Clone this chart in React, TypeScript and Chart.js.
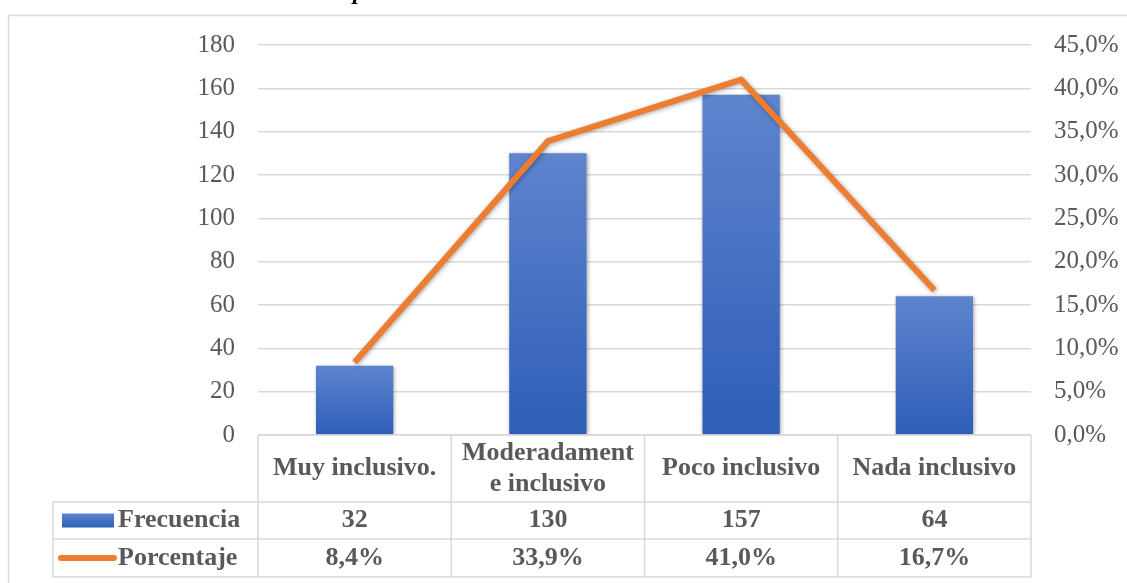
import React, { useEffect, useRef } from "react";
import { Chart, registerables } from "chart.js";

Chart.register(...registerables);

const categories: (string | string[])[] = [
  "Muy inclusivo.",
  ["Moderadament", "e inclusivo"],
  "Poco inclusivo",
  "Nada inclusivo",
];
const frecuencia = [32, 130, 157, 64];
const porcentaje = [0.084, 0.339, 0.41, 0.167];
const seriesNames = ["Frecuencia", "Porcentaje"];
const leftMax = 180;
const leftStep = 20;
const rightMax = 0.45;
const rightStep = 0.05;

const FONT = "'Liberation Serif', 'Times New Roman', serif";
const TEXT = "#595959";
const GRID = "#D9D9D9";
const ORANGE = "#ED7D31";
const BLUE_TOP = "rgb(94,132,206)";
const BLUE_BOT = "rgb(46,94,183)";
const TICK_SIZE = 25;
const TABLE_SIZE = 26;

const fmtPct = (v: number) => (v * 100).toFixed(1).replace(".", ",") + "%";

const tablePlugin = {
  id: "tablePlugin",
  beforeDraw(chart: any) {
    const ctx = chart.ctx;
    ctx.save();
    ctx.fillStyle = "#fff";
    ctx.fillRect(0, 0, chart.width, chart.height);
    ctx.strokeStyle = GRID;
    ctx.lineWidth = 1.5;
    ctx.strokeRect(8.5, 15.5, chart.width + 20, chart.height + 20);
    // fragment of caption above the chart
    ctx.fillStyle = "#000";
    ctx.font = `italic bold 24px ${FONT}`;
    ctx.textAlign = "left";
    ctx.textBaseline = "alphabetic";
    ctx.fillText("p", 353, -1);
    ctx.restore();
  },
  beforeDatasetDraw(chart: any) {
    const ctx = chart.ctx;
    ctx.save();
    ctx.shadowColor = "rgba(0,0,0,0.35)";
    ctx.shadowBlur = 4;
    ctx.shadowOffsetX = 1;
    ctx.shadowOffsetY = 1;
  },
  afterDatasetDraw(chart: any) {
    chart.ctx.restore();
  },
  afterDraw(chart: any) {
    const ctx = chart.ctx;
    const xs = chart.scales.x;
    const area = chart.chartArea;
    const n = categories.length;
    const half = (xs.getPixelForValue(1) - xs.getPixelForValue(0)) / 2;
    const bounds: number[] = [];
    for (let i = 0; i < n; i++) bounds.push(xs.getPixelForValue(i) - half);
    bounds.push(xs.getPixelForValue(n - 1) + half);
    const y0 = area.bottom;
    const y1 = y0 + 67;
    const y2 = y0 + 104;
    const y3 = y0 + 142;
    const legLeft = 53;

    ctx.save();
    ctx.strokeStyle = GRID;
    ctx.lineWidth = 1.5;
    ctx.beginPath();
    ctx.moveTo(bounds[0], y0);
    ctx.lineTo(bounds[n], y0);
    ctx.moveTo(legLeft, y1);
    ctx.lineTo(bounds[n], y1);
    ctx.moveTo(legLeft, y2);
    ctx.lineTo(bounds[n], y2);
    ctx.moveTo(legLeft, y3);
    ctx.lineTo(bounds[n], y3);
    for (let i = 0; i <= n; i++) {
      ctx.moveTo(bounds[i], y0);
      ctx.lineTo(bounds[i], y3);
    }
    ctx.moveTo(legLeft, y1);
    ctx.lineTo(legLeft, y3);
    ctx.stroke();

    ctx.fillStyle = TEXT;
    ctx.font = `bold ${TABLE_SIZE}px ${FONT}`;
    ctx.textAlign = "center";
    ctx.textBaseline = "middle";
    const hMid = (y0 + y1) / 2;
    categories.forEach((c, i) => {
      const cx = xs.getPixelForValue(i);
      if (Array.isArray(c)) {
        const lh = 31;
        const start = hMid - ((c.length - 1) * lh) / 2;
        c.forEach((line, j) => ctx.fillText(line, cx, start + j * lh));
      } else {
        ctx.fillText(c, cx, hMid);
      }
    });
    const r2 = (y1 + y2) / 2;
    const r3 = (y2 + y3) / 2;
    frecuencia.forEach((v, i) => ctx.fillText(String(v), xs.getPixelForValue(i), r2));
    porcentaje.forEach((v, i) => ctx.fillText(fmtPct(v), xs.getPixelForValue(i), r3));

    const g = ctx.createLinearGradient(0, r2 - 7, 0, r2 + 7);
    g.addColorStop(0, BLUE_TOP);
    g.addColorStop(1, BLUE_BOT);
    ctx.fillStyle = g;
    ctx.fillRect(62, r2 - 7, 52, 14);
    ctx.strokeStyle = ORANGE;
    ctx.lineWidth = 6;
    ctx.lineCap = "round";
    ctx.beginPath();
    ctx.moveTo(61, r3);
    ctx.lineTo(114, r3);
    ctx.stroke();
    ctx.fillStyle = TEXT;
    ctx.textAlign = "left";
    ctx.fillText(seriesNames[0], 118, r2);
    ctx.fillText(seriesNames[1], 118, r3);
    ctx.restore();
  },
};

export default function App() {
  const ref = useRef<HTMLCanvasElement | null>(null);
  useEffect(() => {
    if (!ref.current) return;
    const chart = new Chart(ref.current, {
      type: "bar",
      data: {
        labels: categories as any,
        datasets: [
          {
            type: "line",
            label: seriesNames[1],
            data: porcentaje,
            yAxisID: "y1",
            borderColor: ORANGE,
            borderWidth: 6,
            pointRadius: 0,
            borderJoinStyle: "miter",
            tension: 0,
            order: 0,
          } as any,
          {
            type: "bar",
            label: seriesNames[0],
            data: frecuencia,
            yAxisID: "y",
            order: 1,
            barPercentage: 0.4,
            categoryPercentage: 1,
            backgroundColor: (c: any) => {
              const ch = c.chart;
              const area = ch.chartArea;
              if (!area || c.dataIndex === undefined) return BLUE_BOT;
              const ys = ch.scales.y;
              const top = ys.getPixelForValue(frecuencia[c.dataIndex]);
              const g = ch.ctx.createLinearGradient(0, top, 0, area.bottom);
              g.addColorStop(0, BLUE_TOP);
              g.addColorStop(1, BLUE_BOT);
              return g;
            },
          } as any,
        ],
      },
      options: {
        responsive: false,
        animation: false,
        layout: { padding: { left: 0, right: 0, top: 45, bottom: 148 } },
        plugins: { legend: { display: false }, tooltip: { enabled: false } },
        scales: {
          x: { display: false },
          y: {
            position: "left",
            min: 0,
            max: leftMax,
            ticks: {
              stepSize: leftStep,
              color: TEXT,
              font: { family: FONT, size: TICK_SIZE },
              padding: 23,
            },
            grid: { color: GRID, lineWidth: 1.5, drawTicks: false },
            border: { display: false },
            afterFit: (s: any) => {
              s.width = 258;
            },
          },
          y1: {
            position: "right",
            min: 0,
            max: rightMax,
            ticks: {
              stepSize: rightStep,
              color: TEXT,
              font: { family: FONT, size: TICK_SIZE },
              padding: 23,
              callback: (v: any) => fmtPct(Number(v)),
            },
            grid: { display: false, drawTicks: false },
            border: { display: false },
            afterFit: (s: any) => {
              s.width = 96;
            },
          },
        },
      },
      plugins: [tablePlugin],
    });
    return () => chart.destroy();
  }, []);
  return (
    <div style={{ position: "fixed", left: 0, top: 0, width: 1127, height: 583, background: "#fff" }}>
      <canvas ref={ref} width={1127} height={583} style={{ display: "block" }} />
    </div>
  );
}
